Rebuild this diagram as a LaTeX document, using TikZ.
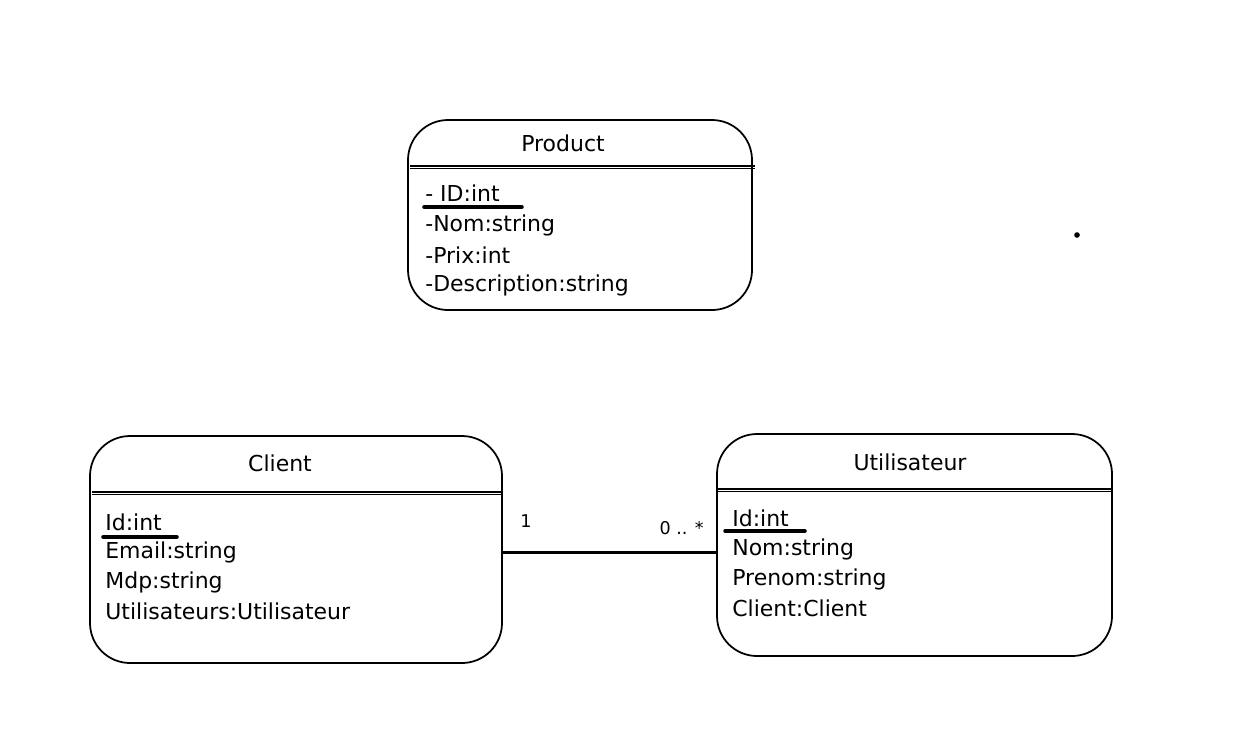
\documentclass[tikz,border=0pt]{standalone}
\usepackage{fontspec}
\setmainfont{DejaVu Sans}
\usepackage{tikz}
\usetikzlibrary{positioning}

\tikzset{
  classbox/.style={draw, line width=1pt, rounded corners=0.8cm, inner sep=0pt},
  headline/.style={line width=1pt},
  headthin/.style={line width=0.4pt, yshift=-0.05cm},
  attr/.style={anchor=west, inner sep=0pt, font=\fontsize{12.5}{14}\selectfont},
  title/.style={inner sep=0pt, font=\fontsize{12.5}{14}\selectfont},
  keyline/.style={line width=2pt, line cap=round},
  assoc/.style={line width=1.8pt}
}

\begin{document}
\begin{tikzpicture}
\useasboundingbox (0,0) rectangle (24.68,-15);
% product
\node[classbox, minimum width=6.88cm, minimum height=3.8cm] (product) at (11.6,-4.3) {};
\node[title] (productname) at (11.26,-2.86) {Product};
\draw[headline] (8.2,-3.32) -- (15.1,-3.32);
\draw[headthin] (8.2,-3.32) -- (15.1,-3.32);
\node[attr] (pid) at (8.5,-3.86) {- ID:int};
\node[attr] (pnom) at (8.5,-4.5) {-Nom:string};
\node[attr] (pprix) at (8.5,-5.1) {-Prix:int};
\node[attr] (pdesc) at (8.5,-5.7) {-Description:string};
\draw[keyline] (8.48,-4.14) -- (10.44,-4.14);
% client
\node[classbox, minimum width=8.24cm, minimum height=4.54cm] (client) at (5.92,-10.99) {};
\node[title] (clientname) at (5.6,-9.26) {Client};
\draw[headline] (1.84,-9.84) -- (10.06,-9.84);
\draw[headthin] (1.84,-9.84) -- (10.06,-9.84);
\node[attr] (cid) at (2.1,-10.44) {Id:int};
\node[attr] (cmail) at (2.1,-11.04) {Email:string};
\node[attr] (cmdp) at (2.1,-11.64) {Mdp:string};
\node[attr] (cuser) at (2.1,-12.22) {Utilisateurs:Utilisateur};
\draw[keyline] (2.06,-10.74) -- (3.54,-10.74);
% utilisateur
\node[classbox, minimum width=7.9cm, minimum height=4.44cm] (util) at (18.29,-10.9) {};
\node[title] (utilname) at (18.2,-9.24) {Utilisateur};
\draw[headline] (14.36,-9.78) -- (22.26,-9.78);
\draw[headthin] (14.36,-9.78) -- (22.26,-9.78);
\node[attr] (uid) at (14.64,-10.36) {Id:int};
\node[attr] (unom) at (14.64,-10.98) {Nom:string};
\node[attr] (upre) at (14.64,-11.58) {Prenom:string};
\node[attr] (ucli) at (14.64,-12.16) {Client:Client};
\draw[keyline] (14.5,-10.62) -- (16.1,-10.62);
% association
\draw[assoc] ([yshift=-0.06cm]client.east) -- ([yshift=-0.06cm]client.east -| util.west)
  node[pos=0, above right=0.36cm and 0.2cm, font=\normalsize] (one) {1}
  node[pos=1, above left=0.2cm and 0.1cm, font=\normalsize] (many) {0 .. *};
% point
\fill (21.54,-4.7) circle (1.6pt);
\end{tikzpicture}
\end{document}
